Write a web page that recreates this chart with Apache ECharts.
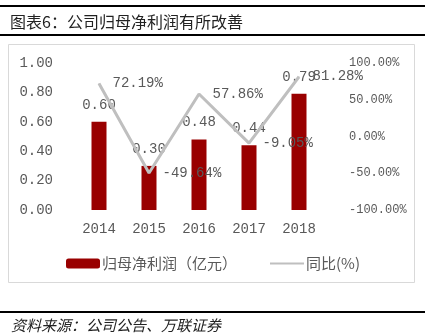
<!DOCTYPE html>
<html><head><meta charset="utf-8">
<script src="https://cdn.jsdelivr.net/npm/echarts@6/dist/echarts.min.js"></script>
<style>html,body{margin:0;padding:0;background:#fff}#c{width:433px;height:334px}</style>
</head><body><div id="c"></div>
<script>
const categories = ['2014','2015','2016','2017','2018'];
const profit = [0.60, 0.30, 0.48, 0.44, 0.79];
const yoy = [72.19, -49.64, 57.86, -9.05, 81.28];
const leftTicks = {min: 0, max: 1, interval: 0.2};
const rightTicks = {min: -100, max: 100, interval: 50};
const title = '图表6：公司归母净利润有所改善';
const source = '资料来源：公司公告、万联证券';
const seriesNames = ['归母净利润（亿元）', '同比(%)'];

const mono = '"Liberation Mono", monospace';
const cjk = '"Noto Sans CJK SC", sans-serif';
const gray = '#595959';
const chart = echarts.init(document.getElementById('c'));
chart.setOption({
  animation: false,
  backgroundColor: '#fff',
  graphic: [
    {type: 'rect', shape: {x: 0, y: 5, width: 425, height: 2}, style: {fill: '#000'}},
    {type: 'text', left: 10, top: 14, style: {text: title, font: '16px ' + cjk, fill: '#222'}},
    {type: 'rect', shape: {x: 0, y: 34, width: 425, height: 2}, style: {fill: '#000'}},
    {type: 'rect', shape: {x: 8.5, y: 44.5, width: 406, height: 238}, style: {fill: 'none', stroke: '#d9d9d9', lineWidth: 1}},
    {type: 'rect', shape: {x: 0, y: 311, width: 425, height: 2}, style: {fill: '#000'}},
    {type: 'text', left: 11, top: 318, style: {text: source, font: 'italic 15px ' + cjk, fill: '#222'}}
  ],
  grid: {left: 74, right: 109, top: 63, bottom: 124},
  legend: {
    left: 61, top: 251, itemWidth: 34, itemHeight: 10, itemGap: 32,
    textStyle: {color: gray, fontSize: 15, fontFamily: cjk, padding: [0, 0, 0, -3]},
    data: [{name: seriesNames[0], icon: 'roundRect'},
           {name: seriesNames[1], itemStyle: {opacity: 0}}]
  },
  xAxis: {
    type: 'category', data: categories,
    axisLine: {show: false}, axisTick: {show: false},
    axisLabel: {color: gray, fontSize: 14, fontFamily: mono, margin: 12}
  },
  yAxis: [
    {type: 'value', min: leftTicks.min, max: leftTicks.max, interval: leftTicks.interval,
     splitLine: {show: false}, axisLine: {show: false}, axisTick: {show: false},
     axisLabel: {color: gray, fontSize: 14, fontFamily: mono, margin: 21, formatter: v => v.toFixed(2)}},
    {type: 'value', min: rightTicks.min, max: rightTicks.max, interval: rightTicks.interval,
     splitLine: {show: false}, axisLine: {show: false}, axisTick: {show: false},
     axisLabel: {color: gray, fontSize: 12, fontFamily: mono, margin: 25, formatter: v => v.toFixed(2) + '%'}}
  ],
  series: [
    {name: seriesNames[0], type: 'bar', data: profit, barWidth: 15, yAxisIndex: 0,
     itemStyle: {color: '#990000'},
     label: {show: true, position: 'top', distance: 10, color: gray, fontSize: 14, fontFamily: mono,
             formatter: p => p.value.toFixed(2)}},
    {name: seriesNames[1], type: 'line', data: yoy, yAxisIndex: 1, z: 5,
     symbol: 'circle', symbolSize: 1,
     lineStyle: {color: '#bfbfbf', width: 3}, itemStyle: {color: '#bfbfbf'},
     label: {show: true, position: 'right', distance: 13, color: gray, fontSize: 14, fontFamily: mono,
             formatter: p => p.value.toFixed(2) + '%'}}
  ]
});
</script></body></html>
